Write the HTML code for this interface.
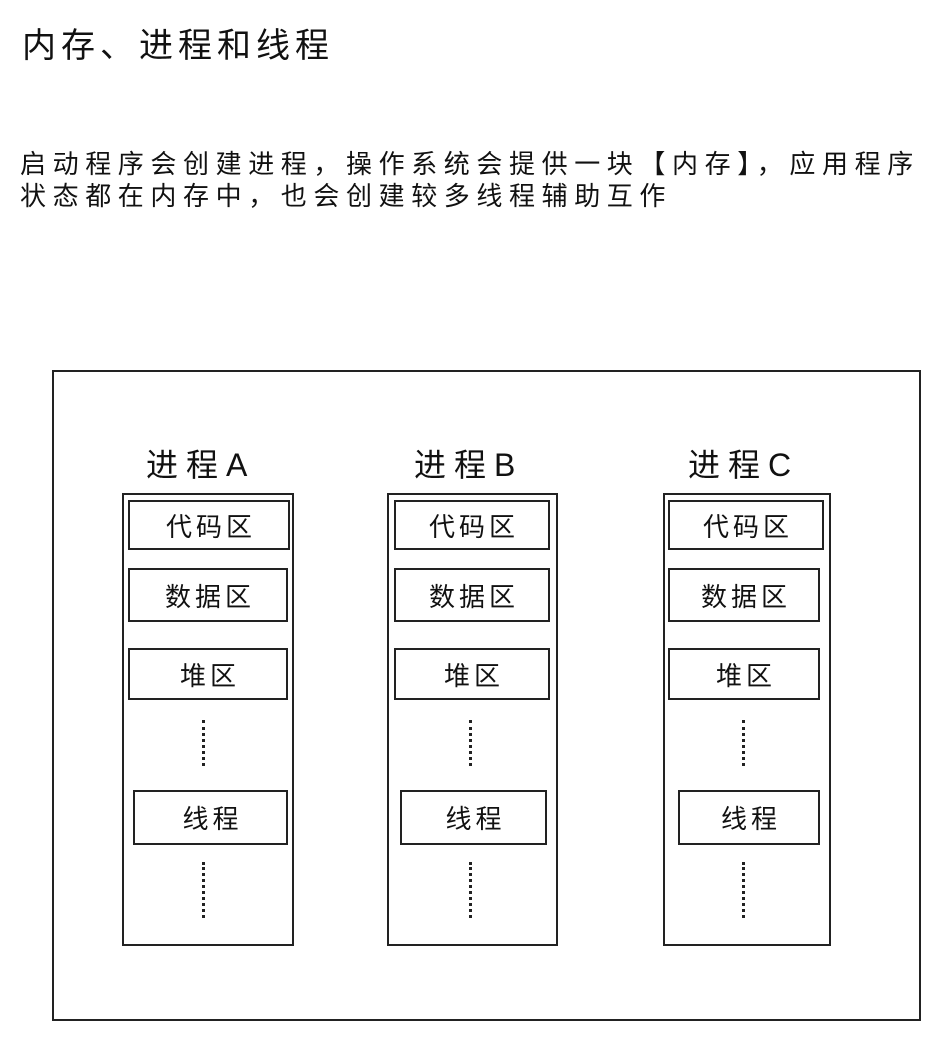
<!DOCTYPE html>
<html><head><meta charset="utf-8"><style>
body{margin:0;width:938px;height:1038px;background:#fff;position:relative;overflow:hidden;font-family:"Liberation Sans","Noto Sans CJK SC",sans-serif;color:#111}
.t{position:absolute;white-space:nowrap}
.b{position:absolute;border:2px solid #222;box-sizing:border-box}
.in{position:absolute;border:2px solid #222;box-sizing:border-box;display:flex;align-items:center;justify-content:center;font-size:26px;letter-spacing:4px;padding-left:4px}
.d{position:absolute;width:0;border-left:3px dotted #222}
.h{font-size:32px;letter-spacing:8px}
</style></head><body>
<div class="t" style="left:22px;top:18px;font-size:34px;letter-spacing:5px">内存、进程和线程</div>
<div class="t" style="left:20px;top:148px;font-size:26px;line-height:32px;letter-spacing:6.6px">启动程序会创建进程，操作系统会提供一块【内存】，应用程序<br>状态都在内存中，也会创建较多线程辅助互作</div>
<div class="b" style="left:52px;top:370px;width:869px;height:651px"></div>

<div class="t h" style="left:146px;top:440px">进程A</div>
<div class="b" style="left:122px;top:493px;width:172px;height:453px"></div>
<div class="in" style="left:128px;top:500px;width:162px;height:50px">代码区</div>
<div class="in" style="left:128px;top:568px;width:160px;height:54px">数据区</div>
<div class="in" style="left:128px;top:648px;width:160px;height:52px">堆区</div>
<div class="in" style="left:133px;top:790px;width:155px;height:55px">线程</div>
<div class="d" style="left:202px;top:720px;height:46px"></div>
<div class="d" style="left:202px;top:862px;height:56px"></div>

<div class="t h" style="left:414px;top:440px">进程B</div>
<div class="b" style="left:387px;top:493px;width:171px;height:453px"></div>
<div class="in" style="left:394px;top:500px;width:156px;height:50px">代码区</div>
<div class="in" style="left:394px;top:568px;width:156px;height:54px">数据区</div>
<div class="in" style="left:394px;top:648px;width:156px;height:52px">堆区</div>
<div class="in" style="left:400px;top:790px;width:147px;height:55px">线程</div>
<div class="d" style="left:469px;top:720px;height:46px"></div>
<div class="d" style="left:469px;top:862px;height:56px"></div>

<div class="t h" style="left:688px;top:440px">进程C</div>
<div class="b" style="left:663px;top:493px;width:168px;height:453px"></div>
<div class="in" style="left:668px;top:500px;width:156px;height:50px">代码区</div>
<div class="in" style="left:668px;top:568px;width:152px;height:54px">数据区</div>
<div class="in" style="left:668px;top:648px;width:152px;height:52px">堆区</div>
<div class="in" style="left:678px;top:790px;width:142px;height:55px">线程</div>
<div class="d" style="left:742px;top:720px;height:46px"></div>
<div class="d" style="left:742px;top:862px;height:56px"></div>
</body></html>
